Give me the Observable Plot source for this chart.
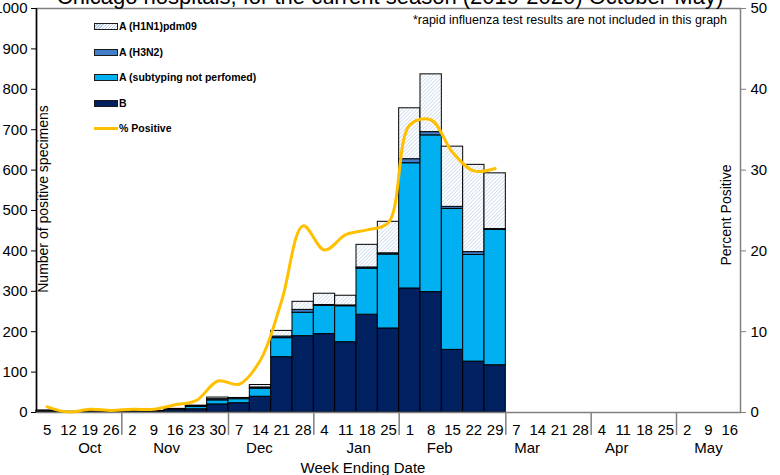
<!DOCTYPE html>
<html><head><meta charset="utf-8">
<script src="https://cdn.jsdelivr.net/npm/d3@7"></script>
<script src="https://cdn.jsdelivr.net/npm/@observablehq/plot@0.6"></script>
<style>
body{margin:0;background:#fff;font-family:"Liberation Sans",Arial,sans-serif;}
#wrap{position:relative;width:780px;height:475px;overflow:hidden;}
#wrap svg{position:absolute;left:0;top:0;}
.title{position:absolute;left:0;width:780px;text-align:center;top:-14px;font-size:22px;line-height:22px;white-space:nowrap;color:#000;z-index:2;}
.note{position:absolute;right:53px;top:13px;font-size:12.5px;color:#000;z-index:2;}
.legend{position:absolute;left:94px;top:0;z-index:2;}
.lrow{position:absolute;left:0;height:12px;display:flex;align-items:center;white-space:nowrap;font-weight:bold;font-size:10.5px;}
.sw{width:22px;height:5px;border:1px solid #1a1a1a;margin-right:1px;}
.swl{width:24px;height:3px;margin-right:1px;}
.ytitle{position:absolute;font-size:14px;white-space:nowrap;transform:translate(-50%,-50%) rotate(-90deg);z-index:2;}
.xtitle{position:absolute;font-size:15px;white-space:nowrap;transform:translate(-50%,-50%);z-index:2;}
</style></head>
<body><div id="wrap"></div>
<script>
// ---- data ----
const dayLabels = ["5","12","19","26","2","9","16","23","30","7","14","21","28","4","11","18","25","1","8","15","22","29","7","14","21","28","4","11","18","25","2","9","16"];
const months = ["Oct","Nov","Dec","Jan","Feb","Mar","Apr","May"];
const monthWeeks = [4,5,4,4,5,4,4,3];
const seriesNames = ["B","A (subtyping not perfomed)","A (H3N2)","A (H1N1)pdm09"];
const valuesB     = [2,2,1,2,2,3,7,8,20,23,39,137,189,194,174,242,208,307,298,155,126,117];
const valuesUnsub = [2,0,1,1,1,1,1,6,10,10,20,47,58,70,89,114,183,310,388,349,264,335];
const valuesH3N2  = [0,0,0,0,0,0,0,1,3,1,3,4,7,2,2,3,3,10,8,5,7,2];
const valuesH1N1  = [1,0,1,0,0,0,1,2,4,2,6,14,20,28,24,56,78,126,143,149,216,138];
const pctPositive = [0.7,0.05,0.4,0.25,0.4,0.4,0.95,1.5,3.9,3.5,6.5,13.9,23.1,20.1,22.0,22.6,23.5,35.6,36.2,32.2,29.9,30.2];
const leftTicks = [0,100,200,300,400,500,600,700,800,900,1000];
const rightTicks = [0,10,20,30,40,50];

// ---- derived tables ----
const seriesValues = [valuesB, valuesUnsub, valuesH3N2, valuesH1N1];
const bars = [];
valuesB.forEach((_, i) => seriesValues.forEach((vals, s) =>
  bars.push({i, i1: i + 1, series: seriesNames[s], value: vals[i]})));
const pctData = pctPositive.map((p, i) => ({x: i + 0.5, p}));
const nWeeks = dayLabels.length;
const starts = d3.cumsum([0, ...monthWeeks]).slice(0, -1);
const boundaries = starts.slice(1);
// Excel-style month label anchors (offset within each month group)
const monthOffset = [2.5, 2.1, 1.45, 2.1, 1.9, 1.0, 1.2, 1.5];
const monthPos = starts.map((s, k) => s + monthOffset[k]);
const colorRange = ["#002060", "#00B0F0", "#427FC8", "url(#h1hatch)"];
const pctToCount = 1000 / 50;

const chart = Plot.plot({
  width: 780, height: 475,
  marginLeft: 36, marginRight: 40, marginTop: 8, marginBottom: 63,
  style: {fontFamily: "Liberation Sans, Arial, sans-serif", fontSize: "15px", background: "transparent", color: "#000"},
  x: {type: "linear", domain: [0, nWeeks], axis: null},
  y: {domain: [0, 1000], axis: null},
  color: {domain: seriesNames, range: colorRange},
  marks: [
    Plot.rectY(bars, Plot.stackY({x1: "i", x2: "i1", y: "value", fill: "series", stroke: "#000", strokeWidth: 1})),
    Plot.frame({stroke: "#808080", strokeWidth: 1.5}),
    Plot.line(pctData, {x: "x", y: d => d.p * pctToCount, curve: "catmull-rom", stroke: "#FFC000", strokeWidth: 3}),
    Plot.ruleX([0], {stroke: "#000", strokeWidth: 1.5}),
    Plot.axisY({anchor: "left", ticks: leftTicks, tickFormat: d => String(d), tickSize: 5, tickPadding: 4, label: null, fontSize: 15}),
    Plot.axisY({anchor: "right", ticks: rightTicks.map(t => t * pctToCount), tickFormat: d => String(d / pctToCount), tickSize: 5, tickPadding: 5, label: null, fontSize: 15, stroke: "#808080"}),
    Plot.axisX({ticks: boundaries, tickSize: 23, tickFormat: () => "", stroke: "#808080", strokeWidth: 1.5, label: null}),
    Plot.axisX({ticks: dayLabels.map((_, i) => i + 0.5), tickSize: 0, tickPadding: 12, tickFormat: d => dayLabels[Math.floor(d)], fontSize: 15, label: null}),
    Plot.axisX({ticks: monthPos, tickSize: 0, tickPadding: 30, tickFormat: (d, k) => months[k], fontSize: 15, label: null})
  ]
});

const defs = document.createElementNS("http://www.w3.org/2000/svg", "defs");
defs.innerHTML = '<pattern id="h1hatch" patternUnits="userSpaceOnUse" width="2.6" height="2.6" patternTransform="rotate(45)"><rect width="2.6" height="2.6" fill="#ffffff"/><line x1="0" y1="0" x2="0" y2="2.6" stroke="#b4c9e6" stroke-width="1.1"/></pattern>';
chart.insertBefore(defs, chart.firstChild);

const wrap = document.getElementById("wrap");
wrap.appendChild(chart);

function addDiv(cls, text, css) {
  const d = document.createElement("div");
  d.className = cls; d.textContent = text;
  Object.assign(d.style, css || {});
  wrap.appendChild(d);
  return d;
}
addDiv("title", "Chicago hospitals, for the current season (2019-2020) October-May)");
addDiv("note", "*rapid influenza test results are not included in this graph");
addDiv("ytitle", "Number of positive specimens", {left: "43px", top: "199px"});
addDiv("ytitle", "Percent Positive", {left: "726px", top: "215px"});
addDiv("xtitle", "Week Ending Date", {left: "363px", top: "467px"});

// legend (top to bottom, as in the reference)
const legend = document.createElement("div");
legend.className = "legend";
const legendItems = [...seriesNames].reverse().map(n => ({name: n, fill: colorRange[seriesNames.indexOf(n)]}));
legendItems.push({name: "% Positive", line: "#FFC000"});
const rowY = [20, 46, 71, 97, 122];
legendItems.forEach((it, k) => {
  const row = document.createElement("div");
  row.className = "lrow"; row.style.top = rowY[k] + "px";
  const sw = document.createElement("div");
  if (it.line) { sw.className = "swl"; sw.style.background = it.line; }
  else {
    sw.className = "sw";
    sw.style.background = it.fill.startsWith("url") ?
      "repeating-linear-gradient(135deg,#ffffff 0 1.2px,#b4c9e6 1.2px 2.2px)" : it.fill;
  }
  row.appendChild(sw);
  const t = document.createElement("span"); t.textContent = it.name;
  row.appendChild(t);
  legend.appendChild(row);
});
wrap.appendChild(legend);
</script>
</body></html>
